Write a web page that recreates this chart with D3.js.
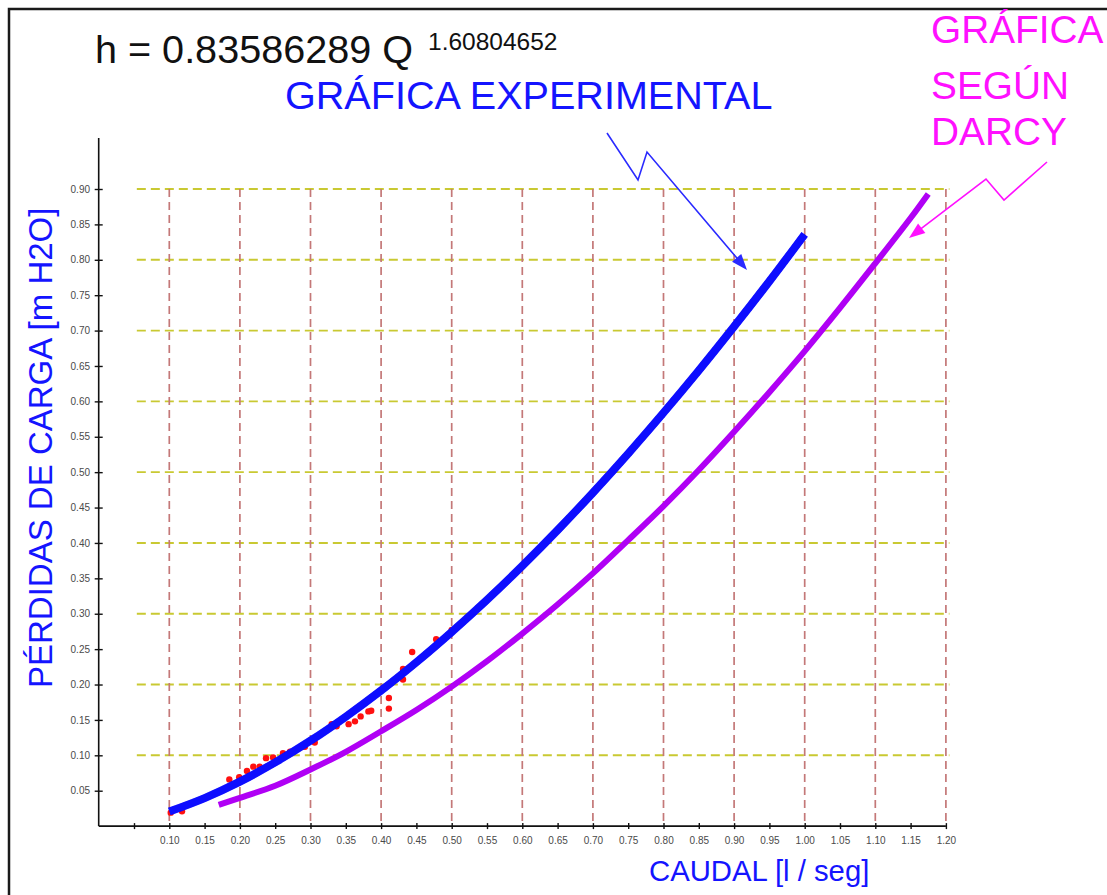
<!DOCTYPE html>
<html>
<head>
<meta charset="utf-8">
<script src="https://cdn.jsdelivr.net/npm/d3@7"></script>
<style>
  html, body { margin: 0; padding: 0; background: #fff; }
  svg { display: block; font-family: "Liberation Sans", Arial, sans-serif; }
</style>
</head>
<body>
<svg id="chart" width="1107" height="895"></svg>
<script>
// Caudal (l/s) and pérdidas de carga (m H2O)
const expQ = [0.102, 0.118, 0.185, 0.199, 0.210, 0.219, 0.228, 0.237, 0.247, 0.261, 0.271, 0.292, 0.306,
              0.330, 0.337, 0.354, 0.363, 0.371, 0.382, 0.386, 0.411, 0.411, 0.431, 0.431, 0.444, 0.478, 0.500];
const expH = [0.019, 0.021, 0.066, 0.069, 0.078, 0.084, 0.084, 0.096, 0.097, 0.103, 0.105, 0.112, 0.118,
              0.144, 0.141, 0.144, 0.148, 0.155, 0.162, 0.163, 0.181, 0.166, 0.207, 0.222, 0.246, 0.264, 0.277];

// Ajuste potencial h = 0.83586289 Q^1.60804652
const fitQ = [0.10, 0.15, 0.20, 0.25, 0.30, 0.35, 0.40, 0.45, 0.50, 0.55, 0.60, 0.65, 0.70, 0.75, 0.80, 0.85, 0.90, 0.95, 1.00];
const fitH = [0.0206, 0.0396, 0.0628, 0.0900, 0.1206, 0.1546, 0.1915, 0.2315, 0.2743, 0.3196, 0.3676, 0.4181,
              0.4710, 0.5263, 0.5839, 0.6436, 0.7057, 0.7697, 0.8359];

// Curva según Darcy
const darcyQ = [0.17, 0.20, 0.25, 0.30, 0.35, 0.40, 0.45, 0.50, 0.55, 0.60, 0.65, 0.70, 0.75, 0.80, 0.85, 0.90,
                0.95, 1.00, 1.05, 1.10, 1.15, 1.175];
const darcyH = [0.030, 0.040, 0.057, 0.080, 0.105, 0.134, 0.164, 0.197, 0.233, 0.272, 0.313, 0.357, 0.404,
                0.452, 0.503, 0.557, 0.613, 0.671, 0.732, 0.795, 0.859, 0.893];

// Ticks and grid
const xTicks = [0.05, 0.10, 0.15, 0.20, 0.25, 0.30, 0.35, 0.40, 0.45, 0.50, 0.55, 0.60, 0.65, 0.70, 0.75, 0.80,
                0.85, 0.90, 0.95, 1.00, 1.05, 1.10, 1.15, 1.20];
const yTicks = [0.05, 0.10, 0.15, 0.20, 0.25, 0.30, 0.35, 0.40, 0.45, 0.50, 0.55, 0.60, 0.65, 0.70, 0.75, 0.80, 0.85, 0.90];
const xGrid = [0.1, 0.2, 0.3, 0.4, 0.5, 0.6, 0.7, 0.8, 0.9, 1.0, 1.1, 1.2];
const yGrid = [0.1, 0.2, 0.3, 0.4, 0.5, 0.6, 0.7, 0.8, 0.9];

const svg = d3.select("#chart");
svg.append("rect").attr("width", 1107).attr("height", 895).attr("fill", "#fff");

// outer frame
svg.append("path").attr("d", "M9,895V9H1107").attr("fill", "none")
  .attr("stroke", "#1a1a1a").attr("stroke-width", 2.5);

const x = d3.scaleLinear().domain([0, 1.2]).range([98.7, 945.9]);
const y = d3.scaleLinear().domain([0, 0.9]).range([826.1, 189]);

const defs = svg.append("defs");
defs.append("filter").attr("id", "soft").append("feGaussianBlur").attr("stdDeviation", 0.6);

// grid
const grid = svg.append("g");
grid.selectAll(".gh").data(yGrid).join("line")
  .attr("x1", x(0.054)).attr("x2", x(1.205))
  .attr("y1", d => y(d)).attr("y2", d => y(d))
  .attr("stroke", "#c9c932").attr("stroke-width", 1.9).attr("stroke-dasharray", "9,5");
grid.selectAll(".gv").data(xGrid).join("line")
  .attr("x1", d => x(d)).attr("x2", d => x(d))
  .attr("y1", y(0.9)).attr("y2", y(0))
  .attr("stroke", "#c47878").attr("stroke-width", 1.7).attr("stroke-dasharray", "8,5");

// axes
const fmt = d3.format(".2f");
const gx = svg.append("g").attr("transform", `translate(0,${y(0)})`)
  .call(d3.axisBottom(x).tickValues(xTicks).tickSize(3).tickSizeOuter(0).tickPadding(8)
    .tickFormat(d => d < 0.075 ? "" : fmt(d)));
gx.select(".domain").attr("d", `M${x(0)},0H${x(1.2)}`).attr("stroke", "#111").attr("stroke-width", 1.6);
gx.selectAll(".tick line").attr("y1", -3).attr("stroke", "#111").attr("stroke-width", 1.4);
gx.selectAll(".tick text").attr("font-size", 10).attr("fill", "#4a4a4a")
  .attr("font-family", "'Liberation Sans', Arial, sans-serif");

const gy = svg.append("g").attr("transform", `translate(${x(0)},0)`)
  .call(d3.axisLeft(y).tickValues(yTicks).tickSize(4).tickSizeOuter(0).tickPadding(4.7).tickFormat(fmt));
gy.select(".domain").attr("d", `M0,${y(0)}V${y(0.972)}`).attr("stroke", "#111").attr("stroke-width", 1.6);
gy.selectAll(".tick line").attr("x1", 4).attr("stroke", "#111").attr("stroke-width", 1.4);
gy.selectAll(".tick text").attr("font-size", 10).attr("fill", "#4a4a4a")
  .attr("font-family", "'Liberation Sans', Arial, sans-serif");

// curves
const line = d3.line().x(d => x(d[0])).y(d => y(d[1])).curve(d3.curveCatmullRom);
svg.append("path").datum(d3.zip(darcyQ, darcyH)).attr("d", line)
  .attr("fill", "none").attr("stroke", "#b000f5").attr("stroke-width", 6).attr("filter", "url(#soft)");

// experimental points
svg.append("g").selectAll("circle").data(d3.zip(expQ, expH)).join("circle")
  .attr("cx", d => x(d[0])).attr("cy", d => y(d[1])).attr("r", 3.2).attr("fill", "#ff1010");

svg.append("path").datum(d3.zip(fitQ, fitH)).attr("d", line)
  .attr("fill", "none").attr("stroke", "#0808ff").attr("stroke-width", 8).attr("filter", "url(#soft)");

// texts
svg.append("text").attr("x", 95).attr("y", 63).attr("font-size", 39.6).attr("fill", "#111")
  .text("h = 0.83586289 Q");
svg.append("text").attr("x", 428).attr("y", 50).attr("font-size", 24.5).attr("fill", "#111")
  .text("1.60804652");
svg.append("text").attr("x", 285).attr("y", 109).attr("font-size", 39.6).attr("fill", "#1414ff")
  .text("GRÁFICA EXPERIMENTAL");
const darcyLabel = ["GRÁFICA", "SEGÚN", "DARCY"];
const darcyBase = [43, 99, 145];
svg.append("g").selectAll("text").data(darcyLabel).join("text")
  .attr("x", 931).attr("y", (d, i) => darcyBase[i]).attr("font-size", 38.8).attr("fill", "#ff10ff")
  .text(d => d);
svg.append("text").attr("x", 649).attr("y", 881).attr("font-size", 29.3).attr("fill", "#1414ff")
  .text("CAUDAL [l / seg]");
svg.append("text").attr("transform", "translate(52,688) rotate(-90)").attr("font-size", 33).attr("fill", "#1414ff")
  .text("PÉRDIDAS DE CARGA [m H2O]");

// zig-zag arrows pointing at each curve
function arrow(points, color) {
  const n = points.length;
  const [tx, ty] = points[n - 1], [px, py] = points[n - 2];
  const ang = Math.atan2(ty - py, tx - px);
  const L = 16, W = 6;
  const bx = tx - L * Math.cos(ang), by = ty - L * Math.sin(ang);
  const body = points.slice(0, n - 1).concat([[bx + 2 * Math.cos(ang), by + 2 * Math.sin(ang)]]);
  svg.append("path").attr("d", d3.line()(body)).attr("fill", "none")
    .attr("stroke", color).attr("stroke-width", 1.6);
  const head = [[tx, ty],
    [bx - W * Math.sin(ang), by + W * Math.cos(ang)],
    [bx + W * Math.sin(ang), by - W * Math.cos(ang)]];
  svg.append("path").attr("d", d3.line()(head) + "Z").attr("fill", color);
}
arrow([[607, 133], [638, 180], [647, 152], [747, 270]], "#2a2aff");
arrow([[1047, 162], [1004, 200], [986, 179], [909, 238]], "#ff10ff");
</script>
</body>
</html>
